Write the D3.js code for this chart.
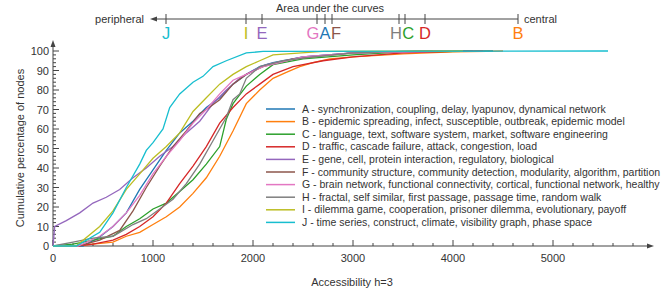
<!DOCTYPE html>
<html>
<head>
<meta charset="utf-8">
<script src="https://cdn.jsdelivr.net/npm/d3@7"></script>
<style>
  body { margin: 0; background: #fff; }
  svg text { font-family: "Liberation Sans", Arial, sans-serif; fill: #333; }
</style>
</head>
<body>
<svg width="664" height="299"></svg>
<script>
var svg = d3.select("svg");

var colors = ["#1f77b4", "#ff7f0e", "#2ca02c", "#d62728", "#9467bd",
              "#8c564b", "#e377c2", "#7f7f7f", "#bcbd22", "#17becf"];

var letters = ["A", "B", "C", "D", "E", "F", "G", "H", "I", "J"];

var legendLabels = [
  "A - synchronization, coupling, delay, lyapunov, dynamical network",
  "B - epidemic spreading, infect, susceptible, outbreak, epidemic model",
  "C - language, text, software system, market, software engineering",
  "D - traffic, cascade failure, attack, congestion, load",
  "E - gene, cell, protein interaction, regulatory, biological",
  "F - community structure, community detection, modularity, algorithm, partition",
  "G - brain network, functional connectivity, cortical, functional network, healthy",
  "H - fractal, self similar, first passage, passage time, random walk",
  "I - dilemma game, cooperation, prisoner dilemma, evolutionary, payoff",
  "J - time series, construct, climate, visibility graph, phase space"
];

// area under the curves (position on the top scale, in accessibility units)
var areaValues = [2720, 4650, 3520, 3720, 2090, 2790, 2640, 3460, 1930, 1130];

// cumulative curves: [accessibility, percentage]
var curveA = [[0,0],[300,0],[450,4],[600,10],[733,17],[867,29],[1000,39],[1133,49],[1267,58],[1400,64],[1533,71],[1667,76],[1800,83],[1933,88],[2067,92],[2200,94],[2500,97],[3000,99],[3500,99.8],[4200,100]];
var curveB = [[0,0],[200,0],[400,1],[600,2],[733,5],[867,7],[1000,11],[1133,15],[1267,20],[1400,27],[1533,35],[1667,46],[1800,59],[1933,73],[2067,80],[2200,86],[2333,89],[2467,92],[2600,94],[2767,96],[3000,97],[3500,98.5],[4000,99.5],[4500,100]];
var curveC = [[0,0],[200,1],[400,3],[600,5],[733,10],[867,14],[1000,19],[1133,22],[1267,28],[1400,34],[1533,42],[1667,51],[1700,58],[1733,65],[1800,73],[1933,82],[2067,88],[2200,93],[2500,96],[3000,98],[3500,99.5],[4400,100]];
var curveD = [[0,0],[230,0],[400,1],[600,3],[733,6],[867,10],[1000,15],[1133,22],[1267,32],[1400,41],[1533,51],[1667,63],[1800,71],[1933,78],[2067,83],[2200,88],[2400,92],[2700,95],[3000,97],[3500,99],[4000,99.8],[4300,100]];
var curveE = [[0,0],[17,10],[133,13],[267,17],[400,22],[533,25],[667,29],[800,35],[933,40],[1067,46],[1200,51],[1333,58],[1467,64],[1600,73],[1733,80],[1867,86],[2000,90],[2133,93],[2500,97],[3000,99],[3900,100]];
var curveF = [[0,0],[250,0],[467,3],[667,8],[800,18],[933,30],[1067,41],[1200,51],[1333,59],[1467,68],[1533,70],[1667,75],[1800,83],[1933,88],[2100,92],[2400,96],[3000,99],[3800,100]];
var curveG = [[0,0],[250,0],[467,5],[600,10],[733,17],[867,26],[1000,37],[1133,46],[1267,54],[1400,63],[1533,70],[1667,78],[1800,85],[1933,88],[2100,92],[2500,97],[3000,99],[4000,100]];
var curveH = [[0,0],[200,2],[400,4],[600,5],[667,7],[800,11],[933,14],[1067,19],[1200,24],[1333,32],[1467,42],[1600,54],[1733,66],[1800,75],[1867,78],[1933,86],[2067,92],[2300,95],[2600,97],[3000,99],[3500,99.8],[4400,100]];
var curveI = [[0,0],[230,0],[467,10],[600,18],[733,29],[867,37],[1000,45],[1133,51],[1267,58],[1400,69],[1533,76],[1667,83],[1800,88],[1933,92],[2067,95],[2200,98],[2700,99.8],[4100,100]];
var curveJ = [[0,0],[233,0],[467,7],[600,17],[733,30],[867,42],[933,49],[1000,53],[1100,60],[1167,71],[1267,78],[1400,84],[1500,87],[1600,92],[1733,95],[1933,99],[2100,99.8],[5550,100]];

var curves = [curveA, curveB, curveC, curveD, curveE, curveF, curveG, curveH, curveI, curveJ];

var xTicks = [0, 1000, 2000, 3000, 4000, 5000];
var yTicks = [0, 10, 20, 30, 40, 50, 60, 70, 80, 90, 100];

var x = d3.scaleLinear().domain([0, 5000]).range([53, 553]);
var y = d3.scaleLinear().domain([0, 100]).range([246, 51]);
var axisColor = "#444";

// x axis
var gx = svg.append("g").attr("transform", "translate(0," + y(0) + ")");
gx.append("line").attr("x1", x(0)).attr("x2", 650).attr("stroke", axisColor);
gx.append("path").attr("d", "M654,0 L647,-2.5 L647,2.5 Z").attr("fill", axisColor);
gx.selectAll(".minor").data(d3.range(0, 6000, 200)).enter().append("line")
    .attr("x1", function(d) { return x(d); }).attr("x2", function(d) { return x(d); })
    .attr("y1", 0).attr("y2", function(d) { return d % 1000 === 0 ? -6 : -3; })
    .attr("stroke", axisColor);
gx.selectAll(".lab").data(xTicks).enter().append("text")
    .attr("x", function(d) { return x(d); }).attr("y", 16)
    .attr("text-anchor", "middle").attr("font-size", 11)
    .text(function(d) { return d; });
svg.append("text").attr("x", 352).attr("y", 286).attr("text-anchor", "middle")
    .attr("font-size", 11).text("Accessibility h=3");

// y axis
var gy = svg.append("g").attr("transform", "translate(" + x(0) + ",0)");
gy.append("line").attr("y1", y(0)).attr("y2", 45).attr("stroke", axisColor);
gy.append("path").attr("d", "M0,40 L-2.5,47 L2.5,47 Z").attr("fill", axisColor);
gy.selectAll(".minor").data(d3.range(0, 102, 2)).enter().append("line")
    .attr("y1", function(d) { return y(d); }).attr("y2", function(d) { return y(d); })
    .attr("x1", 0).attr("x2", function(d) { return d % 10 === 0 ? 6 : 3; })
    .attr("stroke", axisColor);
gy.selectAll(".lab").data(yTicks).enter().append("text")
    .attr("x", -4).attr("y", function(d) { return y(d) + 4; })
    .attr("text-anchor", "end").attr("font-size", 11)
    .text(function(d) { return d; });
svg.append("text").attr("transform", "translate(24,148) rotate(-90)")
    .attr("text-anchor", "middle").attr("font-size", 11)
    .text("Cumulative percentage of nodes");

// curves
var line = d3.line()
    .x(function(d) { return x(d[0]); })
    .y(function(d) { return y(d[1]); });

svg.selectAll(".curve").data(curves).enter().append("path")
    .attr("class", "curve")
    .attr("d", line)
    .attr("fill", "none")
    .attr("stroke", function(d, i) { return colors[i]; })
    .attr("stroke-width", 1.3);

// legend
var legend = svg.selectAll(".legend").data(legendLabels).enter().append("g")
    .attr("transform", function(d, i) { return "translate(266," + (109 + i * 12.6) + ")"; });
legend.append("line").attr("x1", 0).attr("x2", 29)
    .attr("stroke", function(d, i) { return colors[i]; }).attr("stroke-width", 1.5);
legend.append("text").attr("x", 36).attr("y", 3.5).attr("font-size", 10.5)
    .text(function(d) { return d; });

// top scale: area under the curves
var topScale = d3.scaleLinear().domain([1130, 4650]).range([166, 518]);
var topY = 19;
svg.append("text").attr("x", 330).attr("y", 12).attr("text-anchor", "middle")
    .attr("font-size", 11).text("Area under the curves");
svg.append("line").attr("x1", 153).attr("x2", topScale(4650)).attr("y1", topY).attr("y2", topY)
    .attr("stroke", axisColor);
svg.append("path").attr("d", "M150," + topY + " L157," + (topY - 2.5) + " L157," + (topY + 2.5) + " Z")
    .attr("fill", axisColor);
svg.selectAll(".topTick").data(areaValues).enter().append("line")
    .attr("x1", function(d) { return topScale(d); }).attr("x2", function(d) { return topScale(d); })
    .attr("y1", topY - 5).attr("y2", topY + 5).attr("stroke", axisColor);

var topLabs = svg.selectAll(".topLab").data(areaValues).enter().append("text")
    .attr("x", function(d) { return topScale(d); }).attr("y", 39)
    .attr("text-anchor", "middle").attr("font-size", 16.5)
    .style("fill", function(d, i) { return colors[i]; })
    .text(function(d, i) { return letters[i]; });

// nudge letters sideways so neighbours don't overlap
var labs = [];
topLabs.each(function(d) {
  labs.push({ node: this, pos: topScale(d), w: this.getComputedTextLength() });
});
labs.sort(function(a, b) { return a.pos - b.pos; });
for (var it = 0; it < 60; it++) {
  for (var k = 0; k < labs.length - 1; k++) {
    var a = labs[k], b = labs[k + 1];
    var over = (a.w + b.w) / 2 + 0.3 - (b.pos - a.pos);
    if (over > 0) { a.pos -= over / 2; b.pos += over / 2; }
  }
}
labs.forEach(function(l) { d3.select(l.node).attr("x", l.pos); });

svg.append("text").attr("x", 144).attr("y", topY + 4).attr("text-anchor", "end")
    .attr("font-size", 11).text("peripheral");
svg.append("text").attr("x", 524).attr("y", topY + 4)
    .attr("font-size", 11).text("central");
</script>
</body>
</html>
